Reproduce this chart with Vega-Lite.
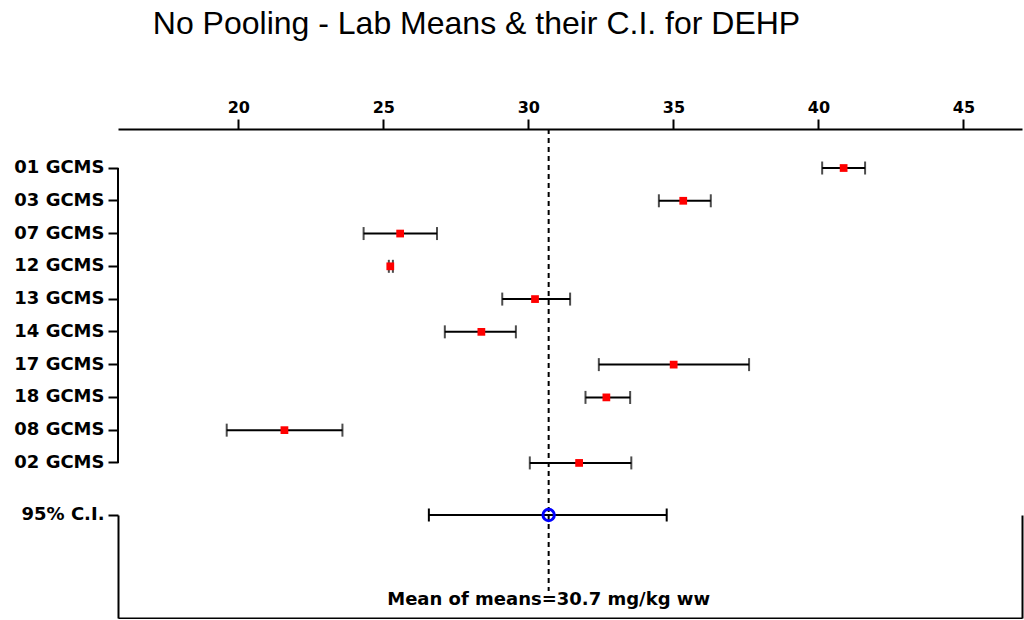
{
  "$schema": "https://vega.github.io/schema/vega-lite/v6.json",
  "background": "white",
  "padding": {"left": 13, "top": 8, "right": 3, "bottom": 1},
  "bounds": "flush",
  "title": {
    "text": "No Pooling - Lab Means & their C.I. for DEHP",
    "font": "Liberation Sans",
    "fontSize": 32,
    "fontWeight": "normal",
    "color": "black",
    "anchor": "start",
    "dx": 139,
    "offset": 58
  },
  "datasets": {
    "labs": [
      {"lab": "01 GCMS", "mean": 40.87, "lo": 40.13, "hi": 41.61},
      {"lab": "03 GCMS", "mean": 35.34, "lo": 34.50, "hi": 36.29},
      {"lab": "07 GCMS", "mean": 25.58, "lo": 24.32, "hi": 26.85},
      {"lab": "12 GCMS", "mean": 25.24, "lo": 25.19, "hi": 25.33},
      {"lab": "13 GCMS", "mean": 30.23, "lo": 29.10, "hi": 31.44},
      {"lab": "14 GCMS", "mean": 28.38, "lo": 27.12, "hi": 29.57},
      {"lab": "17 GCMS", "mean": 35.01, "lo": 32.43, "hi": 37.61},
      {"lab": "18 GCMS", "mean": 32.69, "lo": 31.97, "hi": 33.51},
      {"lab": "08 GCMS", "mean": 21.59, "lo": 19.60, "hi": 23.59},
      {"lab": "02 GCMS", "mean": 31.75, "lo": 30.05, "hi": 33.55}
    ],
    "pooled": [
      {"lab": "95% C.I.", "mean": 30.7, "lo": 26.57, "hi": 34.77, "note": "Mean of means=30.7 mg/kg ww"}
    ]
  },
  "spacing": 0,
  "vconcat": [
    {
      "width": 904,
      "height": 386,
      "data": {"name": "labs"},
      "layer": [
        {
          "data": {"name": "pooled"},
          "mark": {"type": "rule", "color": "black", "strokeWidth": 2, "strokeDash": [5, 4]},
          "encoding": {
            "x": {"field": "mean", "type": "quantitative", "scale": {"domain": [15.852, 47.02], "nice": false, "zero": false}, "axis": {"orient": "top", "values": [20, 25, 30, 35, 40, 45], "title": null}}
          }
        },
        {
          "mark": {"type": "line", "color": "black", "strokeWidth": 2},
          "encoding": {
            "x": {"datum": 15.852, "type": "quantitative", "scale": {"domain": [15.852, 47.02], "nice": false, "zero": false}, "axis": {"orient": "top", "values": [20, 25, 30, 35, 40, 45], "title": null}},
            "y": {"field": "lab", "type": "nominal", "sort": null, "scale": {"type": "band", "paddingInner": 0, "paddingOuter": 0.89, "align": 0.388}, "axis": {"title": null, "domain": false}}
          }
        },
        {
          "mark": {"type": "rule", "color": "black", "strokeWidth": 2},
          "encoding": {
            "x": {"field": "lo", "type": "quantitative", "scale": {"domain": [15.852, 47.02], "nice": false, "zero": false}, "axis": {"orient": "top", "values": [20, 25, 30, 35, 40, 45], "title": null}},
            "x2": {"field": "hi"},
            "y": {"field": "lab", "type": "nominal", "sort": null, "scale": {"type": "band", "paddingInner": 0, "paddingOuter": 0.89, "align": 0.388}, "axis": {"title": null, "domain": false}}
          }
        },
        {
          "mark": {"type": "tick", "orient": "vertical", "color": "black", "size": 13, "thickness": 2},
          "encoding": {
            "x": {"field": "lo", "type": "quantitative", "scale": {"domain": [15.852, 47.02], "nice": false, "zero": false}, "axis": {"orient": "top", "values": [20, 25, 30, 35, 40, 45], "title": null}},
            "y": {"field": "lab", "type": "nominal", "sort": null, "scale": {"type": "band", "paddingInner": 0, "paddingOuter": 0.89, "align": 0.388}, "axis": {"title": null, "domain": false}}
          }
        },
        {
          "mark": {"type": "tick", "orient": "vertical", "color": "black", "size": 13, "thickness": 2},
          "encoding": {
            "x": {"field": "hi", "type": "quantitative", "scale": {"domain": [15.852, 47.02], "nice": false, "zero": false}, "axis": {"orient": "top", "values": [20, 25, 30, 35, 40, 45], "title": null}},
            "y": {"field": "lab", "type": "nominal", "sort": null, "scale": {"type": "band", "paddingInner": 0, "paddingOuter": 0.89, "align": 0.388}, "axis": {"title": null, "domain": false}}
          }
        },
        {
          "mark": {"type": "point", "shape": "square", "filled": true, "color": "#ff0000", "size": 60, "opacity": 1},
          "encoding": {
            "x": {"field": "mean", "type": "quantitative", "scale": {"domain": [15.852, 47.02], "nice": false, "zero": false}, "axis": {"orient": "top", "values": [20, 25, 30, 35, 40, 45], "title": null}},
            "y": {"field": "lab", "type": "nominal", "sort": null, "scale": {"type": "band", "paddingInner": 0, "paddingOuter": 0.89, "align": 0.388}, "axis": {"title": null, "domain": false}}
          }
        }
      ]
    },
    {
      "width": 904,
      "height": 103,
      "data": {"name": "pooled"},
      "resolve": {"axis": {"y": "independent"}},
      "layer": [
        {
          "mark": {"type": "rule", "color": "black", "strokeWidth": 2, "strokeDash": [5, 4], "y2Offset": 24.5},
          "encoding": {
            "x": {"field": "mean", "type": "quantitative", "scale": {"domain": [15.852, 47.02], "nice": false, "zero": false}, "axis": {"orient": "bottom", "labels": false, "ticks": false, "title": null}},
            "y": {"field": "lab", "type": "nominal", "bandPosition": 0, "scale": {"type": "band", "paddingInner": 0, "paddingOuter": 0}, "axis": {"title": null, "bandPosition": 0, "labelOffset": -51.5}},
            "y2": {"field": "lab"}
          }
        },
        {
          "mark": {"type": "rule", "color": "black", "strokeWidth": 2},
          "encoding": {
            "x": {"field": "lo", "type": "quantitative", "scale": {"domain": [15.852, 47.02], "nice": false, "zero": false}, "axis": {"orient": "bottom", "labels": false, "ticks": false, "title": null}},
            "x2": {"field": "hi"},
            "y": {"field": "lab", "type": "nominal", "bandPosition": 0, "scale": {"type": "band", "paddingInner": 0, "paddingOuter": 0}, "axis": null}
          }
        },
        {
          "mark": {"type": "point", "shape": "stroke", "angle": 90, "filled": false, "color": "black", "strokeWidth": 2, "size": 169, "opacity": 1},
          "encoding": {
            "x": {"field": "lo", "type": "quantitative", "scale": {"domain": [15.852, 47.02], "nice": false, "zero": false}, "axis": {"orient": "bottom", "labels": false, "ticks": false, "title": null}},
            "y": {"field": "lab", "type": "nominal", "bandPosition": 0, "scale": {"type": "band", "paddingInner": 0, "paddingOuter": 0}, "axis": null}
          }
        },
        {
          "mark": {"type": "point", "shape": "stroke", "angle": 90, "filled": false, "color": "black", "strokeWidth": 2, "size": 169, "opacity": 1},
          "encoding": {
            "x": {"field": "hi", "type": "quantitative", "scale": {"domain": [15.852, 47.02], "nice": false, "zero": false}, "axis": {"orient": "bottom", "labels": false, "ticks": false, "title": null}},
            "y": {"field": "lab", "type": "nominal", "bandPosition": 0, "scale": {"type": "band", "paddingInner": 0, "paddingOuter": 0}, "axis": null}
          }
        },
        {
          "mark": {"type": "point", "shape": "circle", "filled": false, "color": "#0000ff", "strokeWidth": 3, "size": 130, "opacity": 1},
          "encoding": {
            "x": {"field": "mean", "type": "quantitative", "scale": {"domain": [15.852, 47.02], "nice": false, "zero": false}, "axis": {"orient": "bottom", "labels": false, "ticks": false, "title": null}},
            "y": {"field": "lab", "type": "nominal", "bandPosition": 0, "scale": {"type": "band", "paddingInner": 0, "paddingOuter": 0}, "axis": null}
          }
        },
        {
          "mark": {"type": "text", "font": "DejaVu Sans", "fontWeight": "bold", "fontSize": 18, "color": "black", "align": "center", "baseline": "middle"},
          "encoding": {
            "x": {"field": "mean", "type": "quantitative", "scale": {"domain": [15.852, 47.02], "nice": false, "zero": false}, "axis": {"orient": "bottom", "labels": false, "ticks": false, "title": null}},
            "y": {"field": "lab", "type": "nominal", "bandPosition": 0.83, "scale": {"type": "band", "paddingInner": 0, "paddingOuter": 0}, "axis": {"orient": "right", "labels": false, "ticks": false, "title": null}},
            "text": {"field": "note"}
          }
        }
      ]
    }
  ],
  "config": {
    "view": {"stroke": null},
    "axis": {
      "grid": false,
      "domainColor": "black",
      "domainWidth": 2,
      "tickColor": "black",
      "tickWidth": 2,
      "tickSize": 10,
      "labelFont": "DejaVu Sans",
      "labelFontWeight": "bold",
      "labelColor": "black"
    },
    "axisX": {"labelFontSize": 16, "labelPadding": 4},
    "axisY": {"labelFontSize": 18, "labelPadding": 4}
  }
}
